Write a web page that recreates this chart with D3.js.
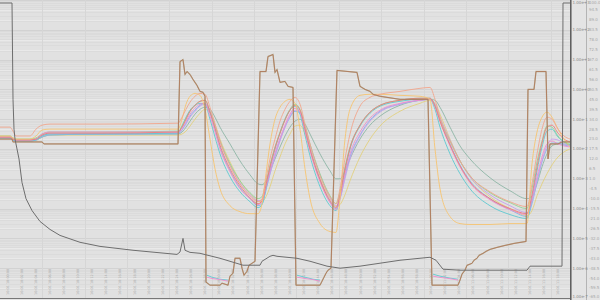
<!DOCTYPE html>
<html>
<head>
<meta charset="utf-8">
<script src="https://cdn.jsdelivr.net/npm/d3@7"></script>
<style>
  body { margin: 0; background: #e4e4e4; }
  svg { display: block; font-family: "DejaVu Sans", sans-serif; }
</style>
</head>
<body>
<svg id="chart" width="600" height="300"></svg>
<script>
// sample index shared by the smooth sensor traces
const sampleIdx = [0,10,13,16,30,36,42,50,100,178, 182,186,190,195,200,205,210,215,220,230,
  240,250,258,262,266,270,275,280,285,290, 295,300,305,310,320,330,336,340,345,350,
  360,370,380,400,420,430,435,440,450,460, 470,490,510,527,532,537,542,547,552,558, 564,570];

// linear-axis traces
const salmon = [29.6,29.6,27.4,24.7,24.7,28.5,30.7,31.3,31.3,31.8, 35.1,39.5,43.4,46.7,48.3,47.8,40.6,31.3,21.9,8.2,
  -1.8,-8.4,-11.7,-10,1,12,23,32.9,39.5,43.9, 46.1,42.3,31.3,20.3,2.7,-8.9,-12.8,-4.5,12,25.8,
  41.2,46.1,47.8,49.4,51.1,51.6,45,35.1,21.9,10.9, 2.7,-6.2,-11.7,-14.4,-1.8,14.8,28.5,35.1,34,28.5, 24.7,23];
const yellow = [24.7,24.7,23.6,23,23,24.7,28,28.5,28.5,28.5, 34,42.3,46.7,48.3,47.2,39.5,23,6.5,-4.5,-13.9,
  -17.2,-18.3,-18.3,-12.8,3.8,20.3,34,40.6,43.9,45, 42.8,28.5,6.5,-10,-23.8,-28.2,-28.7,-10,23,39.5,
  47.2,47.8,47.8,47.2,46.7,45,17.5,-4.5,-19.9,-23.8, -24.3,-24.3,-23.8,-23.8,9.3,26.9,35.1,37.9,35.1,28.5, 23,18.6];
const grayTeal = [23.6,23.6,23,22.5,22.5,22.5,24.1,25.2,25.8,25.8, 26.9,29.6,32.9,36.8,39.5,40.6,39.5,35.1,29.6,20.3,
  10.9,3.2,-1.8,-2.3,-0.1,5.4,12,18.6,24.7,29.6, 32.9,34,31.3,25.8,14.8,5.4,1,1,5.4,12,
  23,30.7,35.7,41.7,44.5,45,44.5,40.6,29.6,19.2, 12,1.6,-5.6,-10,-8.9,-1.8,7.6,14.8,19.2,20.3, 20.3,19.7];
const khaki = [24.1,24.1,23,22.5,22.5,22.5,24.1,25.2,25.2,25.2, 25.8,27.4,30.2,34,37.3,39.5,37.9,31.3,23,10.4,
  -0.1,-7.3,-11.1,-11.7,-8.9,-3.4,5.4,13.1,20.3,25.8, 30.2,30.7,25.8,17.5,1,-10,-14.4,-13.3,-7.8,-0.1,
  13.1,23,30.2,38.4,42.8,44.5,42.8,36.8,23,10.9, 2.1,-8.9,-15.5,-19.4,-16.6,-8.4,-1.8,3.8,8.7,13.1, 15.9,17.5];
const teal = [23.6,23.6,22.5,21.9,21.9,22.5,24.7,25.8,25.8,26.3, 30.2,35.1,39,41.7,42.8,42.3,34,24.1,14.8,2.1,
  -6.2,-11.7,-15,-13.3,-4.5,6.5,17.5,26.3,34,39, 41.2,36.8,25.2,13.7,-3.4,-13.9,-16.6,-8.9,5.4,17.5,
  30.2,37.3,41.2,43.9,45,45,39.5,29.6,14.8,3.8, -4.5,-13.9,-18.8,-21,-10,5.4,18.6,27.4,28.5,24.1, 21.4,19.7];
const green = [24.7,24.7,23.6,23,23,23.6,25.8,26.9,26.9,27.4, 30.2,34.6,38.4,41.7,43.9,44.5,38.4,30.2,21.9,9.3,
  -0.1,-6.7,-10,-8.9,-0.7,8.7,18.6,26.9,34,39.5, 42.3,39.5,30.2,20.3,3.8,-8.4,-12.8,-6.2,7.6,18.6,
  30.7,37.9,41.7,44.5,45.6,45.6,41.7,34,21.9,10.9, 2.7,-6.7,-12.2,-15.5,-4.5,10.4,21.9,30.2,29.6,24.7, 21.4,20.3];
const pink = [24.1,24.1,23,22.5,22.5,23,25.8,26.9,26.9,26.9, 29.1,32.9,36.8,40.1,42.3,42.8,35.7,26.9,17.5,4.9,
  -4.5,-10,-13.3,-11.7,-3.4,5.4,15.3,23.6,30.7,36.8, 40.1,37.9,27.4,16.4,-0.7,-12.2,-16.1,-9.5,3.8,14.8,
  26.9,34.6,39,42.8,44.5,45,41.2,32.9,19.2,7.6, -1.2,-10.6,-16.1,-18.8,-10,2.1,13.1,20.3,21.9,20.3, 19.2,18.6];
const purple = [23.6,23.6,22.5,21.9,21.9,22.5,24.7,25.8,25.8,26.3, 28,31.3,35.1,38.4,41.2,42.3,38.4,30.7,21.9,8.7,
  -1.2,-7.8,-11.1,-10.6,-4.5,3.8,13.1,21.9,29.6,35.7, 39,37.9,29.6,19.7,3.2,-9.5,-13.9,-10,1,12,
  24.7,32.9,37.9,42.3,44.5,45,42.3,35.1,22.5,10.9, 2.1,-7.8,-13.9,-17.7,-11.7,-0.1,10.9,19.2,23,22.5, 20.3,19.2];
const red = [24.1,24.1,23,22.5,22.5,23,25.2,26.3,26.3,26.9, 29.6,34,38.4,41.7,43.9,44.5,37.9,29.1,19.7,6.5,
  -2.9,-9.5,-12.8,-11.1,-2.3,7.6,18.1,26.3,33.5,39, 41.7,39,28.5,17.5,0.5,-11.1,-15,-7.8,6.5,18.1,
  30.7,37.9,41.7,44.5,45.6,45.6,41.2,32.9,19.7,8.2, -0.7,-10,-15.5,-18.3,-7.8,7.6,20.8,29.6,30.7,26.3, 23,21.4];
const blue = [23.6,23.6,22.5,21.9,21.9,22.5,24.1,25.2,25.8,25.8, 28,31.8,35.7,39,41.7,42.8,37.3,28.5,18.6,5.4,
  -4,-10,-13.9,-12.8,-5.1,3.8,13.7,22.5,29.6,35.1, 38.4,37.3,28,17.5,0.5,-11.7,-15.5,-10,2.1,13.1,
  25.2,33.5,38.4,42.3,44.5,45,41.7,34,20.3,8.7, -0.1,-10,-16.1,-19.9,-12.8,-0.7,10.4,17.5,20.8,20.8, 19.7,19.2];

// setpoint step trace (linear axis)
const stepIdx = [0,12,13,42,44,178,180,183,185,187,190,193,197,200,203,205,206,210,220,222,228,230,233,235,240,242,244,247,249,252,255,
  260,266,268,273,275,277,280,285,288,293,296,320,322,324,326,328,331,337,357,360,365,370,373,380,387,400,428,432,458,
  460,462,465,467,472,474,477,479,483,486,490,497,505,514,526,528,534,536,546,548,550,558,562,570];
const stepVal = [23,23,21.4,21.4,20.3,20.3,65.9,67,58.8,60.4,58.8,56,52.7,49.4,48.9,46.7,-56.2,-57.9,-57.9,-56.8,-57.9,-52.9,-51.3,-43,-43,-48.5,-52.4,-50.2,-46.9,-45.8,-44.7,
  60.4,60.4,68.7,69.8,59.9,61.5,54.4,54.9,52.2,51.6,-57.9,-57.9,-55.7,-53.5,-51.3,-49.6,-48.5,61,59.9,52.2,50.5,49.4,47.8,46.7,46.1,45,45,-57.9,-57.9,
  -55.1,-51.8,-49.6,-46.9,-45.8,-44.1,-43,-41.4,-40.3,-39.2,-38.1,-37,-35.9,-34.8,-33.7,50.5,50.5,60.4,60.4,12,20.3,20.3,21.4,21.4];

// low-phase traces (null = gap)
const lowIdx = [207,212,220,228,null,297,305,313,320,null,433,440,450,458];
const lowTeal = [-52.4,-53.5,-54.6,-55.1,null,-52.4,-53.5,-54.6,-55.1,null,-51.8,-52.9,-54,-54.6];
const lowPink = [-53.5,-54.2,-54.8,-55.7,null,-53.5,-54.2,-54.8,-55.7,null,-52.9,-53.6,-54.3,-55.1];

// pressure trace (log axis)
const pressIdx = [0,12,13,14,15,17,19,22,26,32,40,50,60,80,100,133,177,180,183,185,190,200,220,243,260,262,270,273,277,297,310,327,340,360,380,400,430,436,443,460,527,530,562,563,570];
const pressVal = [794,794,0.464,0.0464,0.0215,0.01,0.00464,7.5e-4,2.15e-4,8.6e-5,3.7e-5,2e-5,1.26e-5,7.4e-6,5.4e-6,4e-6,2.9e-6,3.5e-6,1e-5,4e-6,3.4e-6,3.16e-6,2.15e-6,1.26e-6,1.26e-6,1.71e-6,2.51e-6,2.71e-6,2.51e-6,2.15e-6,1.71e-6,1.17e-6,1e-6,1.17e-6,1.47e-6,1.85e-6,2.33e-6,1.85e-6,9.26e-7,8.58e-7,8.58e-7,1.17e-6,1.17e-6,794,794];

// axis ticks
const logTicks = [1e3,1e2,1e1,1e0,1e-1,1e-2,1e-3,1e-4,1e-5,1e-6,1e-7];
const linTicks = d3.range(0, 31).map(i => +(100 - i * 5.5).toFixed(1));
const xTickLabels = ["10-01 10:00:00","10-01 10:02:00","10-01 10:04:00","10-01 10:06:00","10-01 10:08:00","10-01 10:10:00","10-01 10:12:00","10-01 10:14:00",
  "10-01 10:16:00","10-01 10:18:00","10-01 10:20:00","10-01 10:22:00","10-01 10:24:00","10-01 10:26:00","10-01 10:28:00","10-01 10:30:00",
  "10-01 10:32:00","10-01 10:34:00","10-01 10:36:00","10-01 10:38:00","10-01 10:40:00","10-01 10:42:00","10-01 10:44:00","10-01 10:46:00",
  "10-01 10:48:00","10-01 10:50:00","10-01 10:52:00","10-01 10:54:00","10-01 10:56:00","10-01 10:58:00","10-01 11:00:00","10-01 11:02:00",
  "10-01 11:04:00","10-01 11:06:00","10-01 11:08:00","10-01 11:10:00","10-01 11:12:00","10-01 11:14:00","10-01 11:16:00","10-01 11:18:00"];

const plotW = 570, plotH = 298;
const svg = d3.select('#chart');

const x = d3.scaleLinear().domain([0, 570]).range([0, plotW]);
const yLin = d3.scaleLinear().domain([-65, 100]).range([plotH, 0]);
const yLog = d3.scaleLog().domain([1e-7, 1e3]).range([plotH, 0]);

svg.append('rect').attr('width', 600).attr('height', 300).attr('fill', '#e4e4e4');
svg.append('rect').attr('width', plotW).attr('height', plotH).attr('fill', '#e1e1e1');

// grid
const grid = svg.append('g');
grid.selectAll('.lg').data(linTicks).enter().append('line')
  .attr('x1', 0).attr('x2', plotW)
  .attr('y1', d => Math.round(yLin(d)) + 0.5).attr('y2', d => Math.round(yLin(d)) + 0.5)
  .attr('stroke', '#e9e9e9').attr('stroke-width', 1);
const logMinor = [];
logTicks.slice(1).forEach(d => { for (let k = 2; k < 10; k++) logMinor.push(d * k); });
grid.selectAll('.lm').data(logMinor).enter().append('line')
  .attr('x1', 0).attr('x2', plotW)
  .attr('y1', d => Math.round(yLog(d)) + 0.5).attr('y2', d => Math.round(yLog(d)) + 0.5)
  .attr('stroke', '#dbdbdb').attr('stroke-width', 1);
grid.selectAll('.lM').data(logTicks).enter().append('line')
  .attr('x1', 0).attr('x2', plotW)
  .attr('y1', d => Math.round(yLog(d)) + 0.5).attr('y2', d => Math.round(yLog(d)) + 0.5)
  .attr('stroke', '#d2d2d2').attr('stroke-width', 1);
grid.selectAll('.vg').data(d3.range(1, 14).map(i => i * 42.35)).enter().append('line')
  .attr('x1', d => Math.round(x(d)) + 0.5).attr('x2', d => Math.round(x(d)) + 0.5)
  .attr('y1', 0).attr('y2', plotH)
  .attr('stroke', '#d6d6d6').attr('stroke-width', 1);

// x labels
const xTickPos = xTickLabels.map((_, i) => 7.3 + i * 14.12);
svg.append('g').selectAll('text').data(xTickLabels).enter().append('text')
  .attr('transform', (d, i) => `translate(${x(xTickPos[i]) + 1.2},295) rotate(-90)`)
  .attr('font-size', 3.4).attr('fill', '#a8a8a8').text(d => d);

// traces
const traces = [
  { v: grayTeal, c: '#8db6a6' }, { v: khaki, c: '#e2d07e' }, { v: blue, c: '#82b6ea' },
  { v: purple, c: '#c6a0ec' }, { v: teal, c: '#5ec8d0' }, { v: green, c: '#92d294' },
  { v: pink, c: '#ee8ccc' }, { v: red, c: '#ec7c7c' }, { v: yellow, c: '#f6c470' }, { v: salmon, c: '#f2a68c' }
];
const smooth = d3.line().x(d => x(d[0])).y(d => yLin(d[1])).curve(d3.curveMonotoneX);
svg.append('g').selectAll('path').data(traces).enter().append('path')
  .attr('d', t => smooth(sampleIdx.map((s, i) => [s, t.v[i]])))
  .attr('fill', 'none').attr('stroke', t => t.c).attr('stroke-width', 0.9);

const lowLine = d3.line().defined(d => d[0] !== null).x(d => x(d[0])).y(d => yLin(d[1]));
[[lowTeal, '#5ec8d0'], [lowPink, '#ee8ccc']].forEach(([v, c]) => {
  svg.append('path').attr('d', lowLine(lowIdx.map((s, i) => [s, v[i]])))
    .attr('fill', 'none').attr('stroke', c).attr('stroke-width', 0.9);
});

const straight = d3.line().x(d => x(d[0])).y(d => yLin(d[1]));
svg.append('path').attr('d', straight(stepIdx.map((s, i) => [s, stepVal[i]])))
  .attr('fill', 'none').attr('stroke', '#a9a07c').attr('stroke-width', 1.3).attr('opacity', 0.7);
svg.append('path').attr('d', straight(stepIdx.map((s, i) => [s, stepVal[i]])))
  .attr('fill', 'none').attr('stroke', '#b07a5c').attr('stroke-width', 0.9);

const logLine = d3.line().x(d => x(d[0])).y(d => yLog(d[1]));
svg.append('path').attr('d', logLine(pressIdx.map((s, i) => [s, pressVal[i]])))
  .attr('fill', 'none').attr('stroke', '#6e6e6e').attr('stroke-width', 1);

// axes
svg.append('line').attr('x1', 0).attr('x2', plotW).attr('y1', plotH + 0.5).attr('y2', plotH + 0.5)
  .attr('stroke', '#777').attr('stroke-width', 1.2);
svg.append('line').attr('x1', plotW + 0.8).attr('x2', plotW + 0.8).attr('y1', 0).attr('y2', 300)
  .attr('stroke', '#5a5a5a').attr('stroke-width', 1.5);
svg.append('line').attr('x1', 586.5).attr('x2', 586.5).attr('y1', 0).attr('y2', 300)
  .attr('stroke', '#b4b4b4').attr('stroke-width', 1);

const fmtLog = d3.format('.2e');
svg.append('g').selectAll('text').data(logTicks).enter().append('text')
  .attr('x', 572.5).attr('y', d => Math.min(Math.max(yLog(d), 3), 297))
  .attr('dy', '0.35em').attr('font-size', 4).attr('fill', '#8a8a8a').text(d => fmtLog(d));
svg.append('g').selectAll('text').data(linTicks).enter().append('text')
  .attr('x', 589).attr('y', d => Math.min(Math.max(yLin(d), 3), 297))
  .attr('dy', '0.35em').attr('font-size', 4).attr('fill', '#a8a8a8').text(d => d.toFixed(1));
</script>
</body>
</html>
